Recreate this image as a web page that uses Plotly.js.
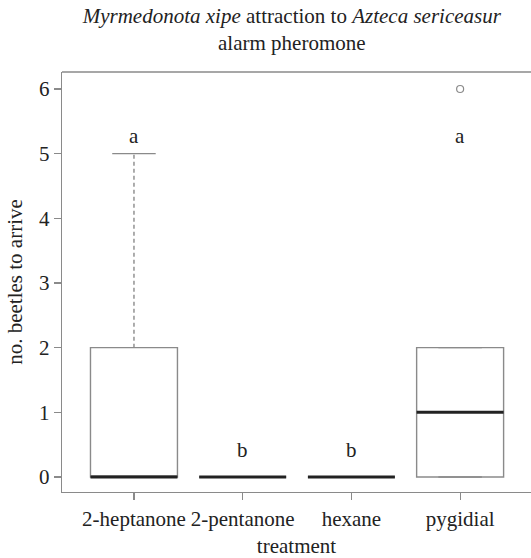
<!DOCTYPE html>
<html>
<head>
<meta charset="utf-8">
<script src="https://cdn.plot.ly/plotly-3.0.1.min.js"></script>
<style>html,body{margin:0;padding:0;background:#fff;}</style>
</head>
<body>
<div id="chart" style="width:531px;height:558px;"></div>
<script>
// Data
var categories = ["2-heptanone", "2-pentanone", "hexane", "pygidial"];
var q1Values = [0, 0, 0, 0];
var medianValues = [0, 0, 0, 1];
var q3Values = [2, 0, 0, 2];
var lowerWhisker = [0, 0, 0, 0];
var upperWhisker = [5, 0, 0, 2];
var outlierCategory = [3];
var outlierValues = [6];
var groupLetters = ["a", "b", "b", "a"];
var letterHeights = [5.27, 0.42, 0.42, 5.27];
var yTicks = [0, 1, 2, 3, 4, 5, 6];

var positions = categories.map(function (c, i) { return i; });
var halfBox = 0.4, halfStaple = 0.2;
var gray = "#8a8a8a";
var ink = "#222222";
var serif = "Liberation Serif";
var fs = 21;

var traces = [];

// boxes (whiskers drawn separately so they can be dashed as in R)
traces.push({
  type: "box",
  x: positions,
  q1: q1Values,
  median: medianValues,
  q3: q3Values,
  lowerfence: q1Values,
  upperfence: q3Values,
  width: 2 * halfBox,
  whiskerwidth: 0,
  boxpoints: false,
  fillcolor: "rgba(255,255,255,0)",
  line: {color: gray, width: 1.4},
  hoverinfo: "skip",
  showlegend: false
});

// dashed whiskers
var wx = [], wy = [];
positions.forEach(function (p, i) {
  wx.push(p, p, null, p, p, null);
  wy.push(q3Values[i], upperWhisker[i], null, lowerWhisker[i], q1Values[i], null);
});
traces.push({type: "scatter", mode: "lines", x: wx, y: wy,
  line: {color: gray, width: 1.4, dash: "4px,3px"}, hoverinfo: "skip", showlegend: false});

// staples
var sx = [], sy = [];
positions.forEach(function (p, i) {
  sx.push(p - halfStaple, p + halfStaple, null, p - halfStaple, p + halfStaple, null);
  sy.push(upperWhisker[i], upperWhisker[i], null, lowerWhisker[i], lowerWhisker[i], null);
});
traces.push({type: "scatter", mode: "lines", x: sx, y: sy,
  line: {color: gray, width: 1.4}, hoverinfo: "skip", showlegend: false});

// medians
var mx = [], my = [];
positions.forEach(function (p, i) {
  mx.push(p - halfBox, p + halfBox, null);
  my.push(medianValues[i], medianValues[i], null);
});
traces.push({type: "scatter", mode: "lines", x: mx, y: my,
  line: {color: ink, width: 3}, hoverinfo: "skip", showlegend: false});

// outliers
traces.push({type: "scatter", mode: "markers", x: outlierCategory, y: outlierValues,
  marker: {symbol: "circle-open", size: 7, color: gray, line: {width: 1.2, color: gray}},
  hoverinfo: "skip", showlegend: false});

var annotations = positions.map(function (p, i) {
  return {x: p, y: letterHeights[i], xref: "x", yref: "y", text: groupLetters[i],
    showarrow: false, font: {family: serif, size: fs, color: ink}};
});

var layout = {
  width: 531, height: 558,
  margin: {l: 62, r: 0, t: 72, b: 66},
  paper_bgcolor: "#fff", plot_bgcolor: "#fff",
  font: {family: serif, size: fs, color: ink},
  title: {
    text: "<i>Myrmedonota xipe</i> attraction to <i>Azteca sericeasur</i><br>alarm pheromone",
    font: {family: serif, size: fs, color: ink},
    x: 0.49, xref: "paper", xanchor: "center",
    y: 1, yref: "container", yanchor: "top", pad: {t: 23}
  },
  xaxis: {
    range: [-0.662, 3.652],
    tickmode: "array", tickvals: positions, ticktext: categories,
    ticks: "outside", ticklen: 7, tickcolor: gray, tickwidth: 1.2,
    showline: true, linecolor: gray, linewidth: 1.4,
    showgrid: false, zeroline: false,
    tickfont: {family: serif, size: fs, color: ink},
    title: {text: "treatment", font: {family: serif, size: fs, color: ink}, standoff: 11}
  },
  yaxis: {
    range: [-0.232, 6.263],
    tickmode: "array", tickvals: yTicks,
    ticks: "outside", ticklen: 7, tickcolor: gray, tickwidth: 1.2,
    showline: true, linecolor: gray, linewidth: 1.4,
    showgrid: false, zeroline: false,
    tickfont: {family: serif, size: fs, color: ink},
    title: {text: "no. beetles to arrive", font: {family: serif, size: fs, color: ink}, standoff: 10}
  },
  shapes: [{type: "line", xref: "paper", yref: "paper", x0: 0, x1: 1, y0: 1, y1: 1,
    line: {color: gray, width: 1.4}}],
  annotations: annotations
};

Plotly.newPlot("chart", traces, layout, {displayModeBar: false, staticPlot: true});
</script>
</body>
</html>
